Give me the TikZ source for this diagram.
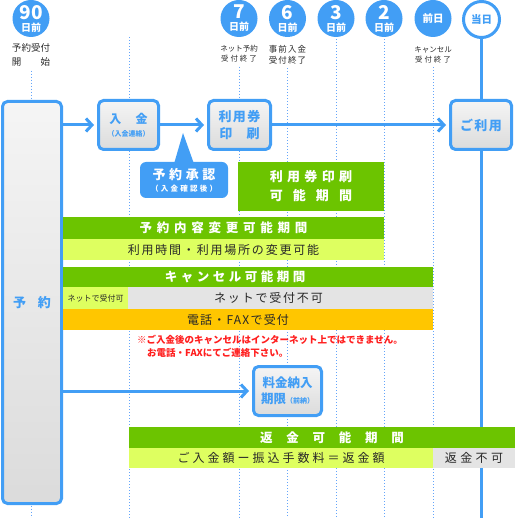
\documentclass[tikz,border=0pt]{standalone}
\usepackage{fontspec}
\setmainfont{Noto Sans CJK JP}
\usetikzlibrary{arrows.meta}
\definecolor{cblue}{RGB}{66,158,245}
\definecolor{cgreen}{RGB}{108,196,0}
\definecolor{clight}{RGB}{222,255,96}
\definecolor{corange}{RGB}{255,198,0}
\definecolor{cgray}{RGB}{228,228,228}
\definecolor{cred}{RGB}{255,30,30}
\definecolor{cdot}{RGB}{100,165,250}
\definecolor{ctext}{RGB}{40,40,40}
\newcommand\fsz[1]{\fontsize{#1}{#1}\selectfont}
\newcommand\lsp[1]{\addfontfeature{LetterSpace=#1}}
\begin{document}
\begin{tikzpicture}[x=1pt,y=-1pt,
  dl/.style={cdot, line width=1pt, dash pattern=on 1pt off 2pt},
  circ/.style={circle, fill=cblue, minimum size=37pt, inner sep=0pt, text=white, align=center, font=\bfseries},
  proc/.style={draw=cblue, line width=3pt, rounded corners=5pt, top color=white!96!black, bottom color=white!86!black, text=cblue, align=center, inner sep=0pt, font=\bfseries},
  bar/.style={anchor=north west, inner sep=0pt, outer sep=0pt, align=center},
  arr/.style={draw=cblue, line width=3pt, -{Straight Barb[length=6pt,width=13pt]}, shorten >=3pt},
  lbl/.style={inner sep=0pt, align=center, text=ctext},
  note/.style={anchor=west, inner sep=0pt, text=cred, font=\bfseries\fsz{9.5}},
]
\useasboundingbox (0,0) rectangle (515,518);
% header circles
\node[circ] (c90) at (31,18.5) {{\fontsize{19}{16}\selectfont 90}\\{\fsz{10}日前}};
\node[circ] (c7) at (239,18.5) {{\fontsize{19}{16}\selectfont 7}\\{\fsz{10}日前}};
\node[circ] (c6) at (287.5,18.5) {{\fontsize{19}{16}\selectfont 6}\\{\fsz{10}日前}};
\node[circ] (c3) at (336,18.5) {{\fontsize{19}{16}\selectfont 3}\\{\fsz{10}日前}};
\node[circ] (c2) at (384,18.5) {{\fontsize{19}{16}\selectfont 2}\\{\fsz{10}日前}};
\node[circ] (c1) at (433,18.5) {\fsz{10.5}前日};
\node[circ, fill=white, draw=cblue, line width=3pt, minimum size=36pt, text=cblue] (today) at (481.5,19.5) {\fsz{10.5}当日};
% header labels
\node[lbl, font=\fontsize{9.5}{14}\selectfont] (l90) at (31,55) {予約受付\\開\hspace{2em}始};
\node[lbl, font=\fontsize{7.5}{10}\selectfont] (l7) at (239,54) {ネット予約\\{\lsp{25}受付終了}};
\node[lbl, font=\fontsize{8.5}{10.5}\selectfont] (l6) at (287.5,55) {{\lsp{12}事前入金}\\{\lsp{12}受付終了}};
\node[lbl, font=\fontsize{7.5}{10}\selectfont] (l1) at (433,55) {キャンセル\\{\lsp{25}受付終了}};
% dotted guide lines
\coordinate (b90) at (31,518);
\coordinate (top13) at (129.5,37);
\coordinate (b13) at (129.5,518);
\draw[dl] ([yshift=-4pt]l90.south) -- (b90);
\draw[dl] (top13) -- (b13);
\draw[dl] ([yshift=-4pt]l7.south) -- (l7.south |- b90);
\draw[dl] ([yshift=-4pt]l6.south) -- (l6.south |- b90);
\draw[dl] ([yshift=-2pt]c3.south) -- (c3.south |- b90);
\draw[dl] ([yshift=-2pt]c2.south) -- (c2.south |- b90);
\draw[dl] ([yshift=-4pt]l1.south) -- (l1.south |- b90);
% process boxes
\node[proc, minimum width=59pt, minimum height=402pt] (yoyaku) at (32,302.5) {\fsz{13}予\hspace{0.9em}約};
\node[proc, minimum width=60pt, minimum height=49pt] (nyukin) at (128.5,125) {{\fsz{12}入\hspace{1.2em}金}\\[1pt]{\fsz{7}（入金連絡）}};
\node[proc, minimum width=62pt, minimum height=49pt, font=\bfseries\fontsize{13}{17}\selectfont] (insatsu) at (239.5,125) {{\lsp{10}利用券}\\印\hspace{1.1em}刷};
\node[proc, minimum width=61pt, minimum height=49pt] (goriyou) at (481,125) {\fsz{13}\lsp{10}ご利用};
\node[proc, minimum width=68pt, minimum height=49pt, font=\bfseries\fontsize{12.5}{16}\selectfont] (ryokin) at (287.5,391) {料金納入\\期限{\fsz{7}（前納）}};
% solid line of the day
\coordinate (bot) at (481.5,518);
\draw[cblue, line width=2.5pt] (today.south) -- (goriyou.north -| today.south);
\draw[cblue, line width=2.5pt] (goriyou.south -| today.south) -- (bot);
% arrows
\draw[arr] (yoyaku.east |- nyukin.west) -- (nyukin.west);
\draw[arr] (nyukin.east) -- (insatsu.west);
\draw[arr] (insatsu.east) -- (goriyou.west);
\draw[arr] (yoyaku.east |- ryokin.west) -- (ryokin.west);
% callout
\node[fill=cblue, rounded corners=6pt, minimum width=88pt, minimum height=36pt, inner sep=0pt, text=white, align=center, font=\bfseries] (shonin) at (184,180) {{\fontsize{13}{16}\selectfont\lsp{28}予約承認}\\{\fsz{7.5}\lsp{30}（入金確認後）}};
\coordinate (tip) at (183,133);
\fill[cblue] ([xshift=-10pt,yshift=-2pt]shonin.north) -- (tip) -- ([xshift=10pt,yshift=-2pt]shonin.north) -- cycle;
% green print period
\node[bar, fill=cgreen, minimum width=146pt, minimum height=49pt, text=white, font=\bfseries\fontsize{13}{19}\selectfont] (insatsuki) at (238,162) {{\lsp{33}利用券印刷}\\{\lsp{77}可能期間}};
% change period
\node[bar, fill=cgreen, minimum width=321pt, minimum height=22pt, text=white, font=\bfseries\fsz{12.5}] (henkoT) at (63,217) {\lsp{38}予約内容変更可能期間};
\node[bar, fill=clight, minimum width=321pt, minimum height=21pt, text=ctext, font=\fsz{12}] (henkoS) at (63,239) {\lsp{15}利用時間・利用場所の変更可能};
% cancel period
\node[bar, fill=cgreen, minimum width=370pt, minimum height=20pt, text=white, font=\bfseries\fsz{12.5}] (cancelT) at (63,267) {\hspace{-26pt}\lsp{28}キャンセル可能期間};
\node[bar, fill=clight, minimum width=65pt, minimum height=22pt, text=ctext, font=\fsz{8}] (netok) at (63,287) {ネットで受付可};
\node[bar, fill=cgray, minimum width=305pt, minimum height=22pt, text=ctext, font=\fsz{12}] (netng) at (128,287) {\hspace{-24pt}\lsp{15}ネットで受付不可};
\node[bar, fill=corange, minimum width=370pt, minimum height=21pt, text=ctext, font=\fsz{12}] (phone) at (63,309) {\hspace{-20pt}\lsp{10}電話・FAXで受付};
\node[note] (note1) at (137,340) {※ご入金後のキャンセルはインターネット上ではできません。};
\node[note] (note2) at (147,353) {お電話・FAXにてご連絡下さい。};
% refund period
\node[bar, fill=cgreen, minimum width=386pt, minimum height=21pt, text=white, font=\bfseries\fsz{12.5}] (henkinT) at (129,427) {\hspace{20pt}\lsp{110}返金可能期間};
\node[bar, fill=clight, minimum width=304pt, minimum height=20pt, text=ctext, font=\fsz{12}] (henkinS) at (129,448) {\lsp{25}ご入金額ー振込手数料＝返金額};
\node[bar, fill=cgray, minimum width=82pt, minimum height=20pt, text=ctext, font=\fsz{12}] (henkinNG) at (433,448) {\lsp{28}返金不可};
\end{tikzpicture}
\end{document}
